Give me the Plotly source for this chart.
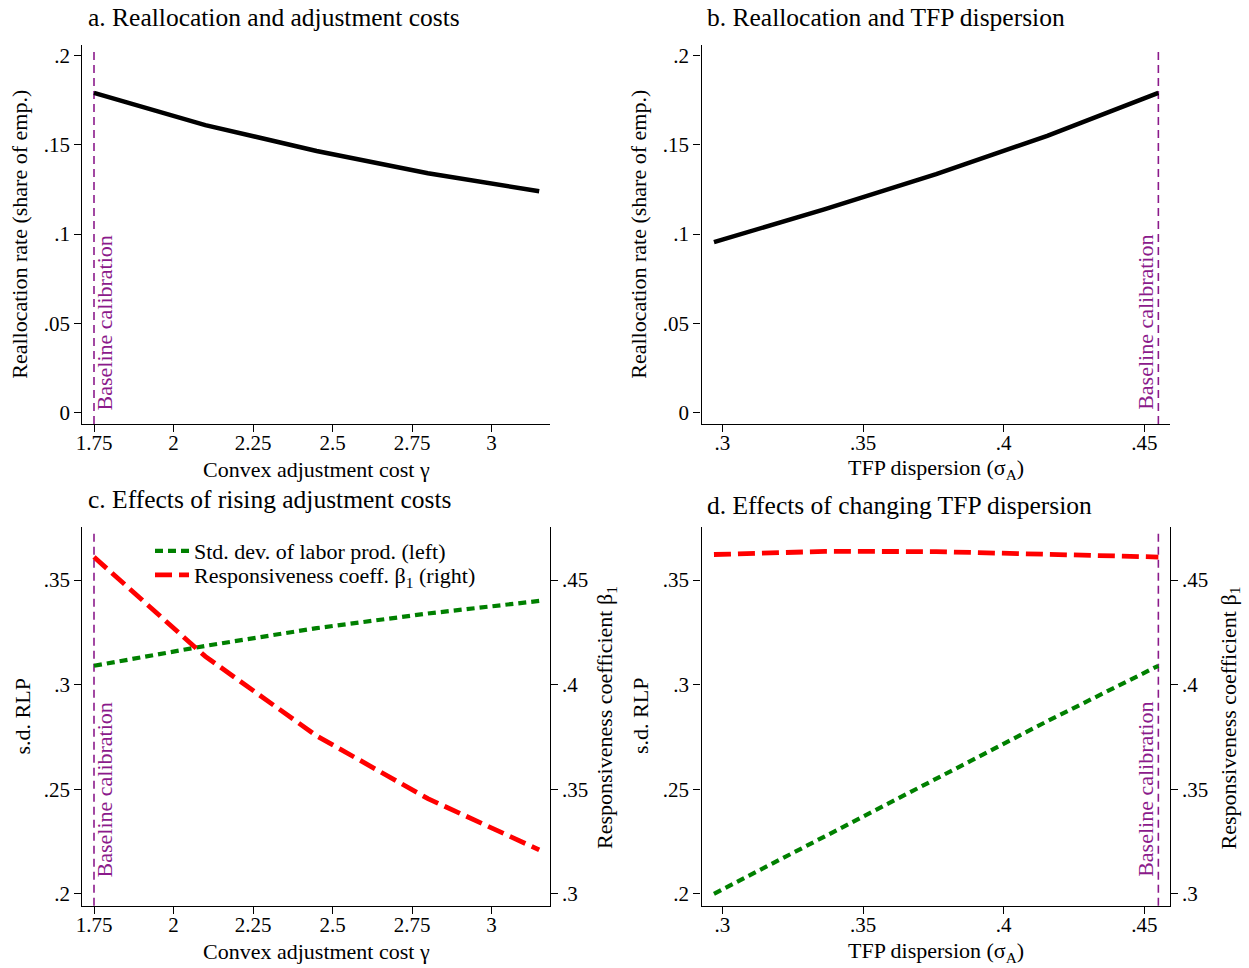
import plotly.graph_objects as go

# Model simulations: reallocation, dispersion and responsiveness
gamma = [1.75, 2.10, 2.45, 2.80, 3.15]          # convex adjustment cost
realloc_gamma = [0.179, 0.161, 0.1465, 0.134, 0.124]
sd_rlp_gamma = [0.309, 0.3185, 0.327, 0.334, 0.340]
beta_gamma = [0.461, 0.4135, 0.3755, 0.3455, 0.321]

sigma = [0.297, 0.3365, 0.376, 0.4155, 0.455]   # TFP dispersion
realloc_sigma = [0.0955, 0.114, 0.1335, 0.155, 0.179]
sd_rlp_sigma = [0.200, 0.2275, 0.255, 0.2825, 0.309]
beta_sigma = [0.4622, 0.4637, 0.4636, 0.4625, 0.461]

baseline_gamma = 1.75
baseline_sigma = 0.455

gamma_ticks = [1.75, 2, 2.25, 2.5, 2.75, 3]
gamma_ticktext = ["1.75", "2", "2.25", "2.5", "2.75", "3"]
sigma_ticks = [0.3, 0.35, 0.4, 0.45]
sigma_ticktext = [".3", ".35", ".4", ".45"]
realloc_ticks = [0, 0.05, 0.1, 0.15, 0.2]
realloc_ticktext = ["0", ".05", ".1", ".15", ".2"]
sd_ticks = [0.2, 0.25, 0.3, 0.35]
sd_ticktext = [".2", ".25", ".3", ".35"]
beta_ticks = [0.3, 0.35, 0.4, 0.45]
beta_ticktext = [".3", ".35", ".4", ".45"]

W, H = 1249, 968
FONT = "Liberation Serif, Times New Roman, serif"
PURPLE = "#8B1A8B"
GREEN = "#008000"
RED = "#FF0000"


def px_x(p):
    return p / W


def px_y(p):
    return 1 - p / H


axis_common = dict(
    showline=True, linecolor="black", linewidth=1.4,
    ticks="outside", ticklen=7, tickwidth=1.3, tickcolor="black",
    showgrid=False, zeroline=False, mirror=False, automargin=False,
    tickfont=dict(family=FONT, size=21, color="black"),
)
xaxis_common = dict(axis_common, ticklabelstandoff=-7)

dom_left = [px_x(82.3), px_x(549.5)]
dom_right = [px_x(701.5), px_x(1169.5)]
dom_top = [px_y(424), px_y(45.4)]
dom_bot = [px_y(905.7), px_y(526.7)]

fig = go.Figure()

# a. reallocation vs adjustment cost
fig.add_trace(go.Scatter(x=gamma, y=realloc_gamma, mode="lines",
                         line=dict(color="black", width=4.5),
                         xaxis="x", yaxis="y", showlegend=False))
# b. reallocation vs TFP dispersion
fig.add_trace(go.Scatter(x=sigma, y=realloc_sigma, mode="lines",
                         line=dict(color="black", width=4.5),
                         xaxis="x2", yaxis="y2", showlegend=False))
# c. adjustment cost effects
fig.add_trace(go.Scatter(x=gamma, y=sd_rlp_gamma, mode="lines",
                         name="Std. dev. of labor prod. (left)",
                         line=dict(color=GREEN, width=4.2, dash="8px,5px"),
                         xaxis="x3", yaxis="y3", showlegend=True, legend="legend"))
fig.add_trace(go.Scatter(x=gamma, y=beta_gamma, mode="lines",
                         name="Responsiveness coeff. β<sub>1</sub> (right)",
                         line=dict(color=RED, width=4.8, dash="17px,7px"),
                         xaxis="x3", yaxis="y5", showlegend=True, legend="legend2"))
# d. TFP dispersion effects
fig.add_trace(go.Scatter(x=sigma, y=sd_rlp_sigma, mode="lines",
                         line=dict(color=GREEN, width=4.2, dash="8px,5px"),
                         xaxis="x4", yaxis="y4", showlegend=False))
fig.add_trace(go.Scatter(x=sigma, y=beta_sigma, mode="lines",
                         line=dict(color=RED, width=4.8, dash="17px,7px"),
                         xaxis="x4", yaxis="y6", showlegend=False))

gamma_range = [1.7132, 3.1824]
sigma_range = [0.29257, 0.45896]

legend_common = dict(xanchor="left", yanchor="middle",
                     bgcolor="rgba(0,0,0,0)", borderwidth=0,
                     font=dict(family=FONT, size=22, color="black"),
                     itemwidth=34)

fig.update_layout(
    template="none",
    width=W, height=H,
    margin=dict(l=0, r=0, t=0, b=0, pad=0, autoexpand=False),
    paper_bgcolor="white", plot_bgcolor="white",
    font=dict(family=FONT, color="black"),
    xaxis=dict(xaxis_common, domain=dom_left, anchor="y", range=gamma_range,
               tickvals=gamma_ticks, ticktext=gamma_ticktext),
    yaxis=dict(axis_common, domain=dom_top, anchor="x", range=[-0.0063, 0.2056],
               tickvals=realloc_ticks, ticktext=realloc_ticktext),
    xaxis2=dict(xaxis_common, domain=dom_right, anchor="y2", range=sigma_range,
                tickvals=sigma_ticks, ticktext=sigma_ticktext),
    yaxis2=dict(axis_common, domain=dom_top, anchor="x2", range=[-0.0063, 0.2056],
                tickvals=realloc_ticks, ticktext=realloc_ticktext),
    xaxis3=dict(xaxis_common, domain=dom_left, anchor="y3", range=gamma_range,
                tickvals=gamma_ticks, ticktext=gamma_ticktext),
    yaxis3=dict(axis_common, domain=dom_bot, anchor="x3", range=[0.1943, 0.3755],
                tickvals=sd_ticks, ticktext=sd_ticktext),
    yaxis5=dict(axis_common, overlaying="y3", side="right", anchor="x3",
                range=[0.2943, 0.4755], tickvals=beta_ticks, ticktext=beta_ticktext),
    xaxis4=dict(xaxis_common, domain=dom_right, anchor="y4", range=sigma_range,
                tickvals=sigma_ticks, ticktext=sigma_ticktext),
    yaxis4=dict(axis_common, domain=dom_bot, anchor="x4", range=[0.1943, 0.3755],
                tickvals=sd_ticks, ticktext=sd_ticktext),
    yaxis6=dict(axis_common, overlaying="y4", side="right", anchor="x4",
                range=[0.2943, 0.4755], tickvals=beta_ticks, ticktext=beta_ticktext),
    legend=dict(legend_common, x=px_x(150), y=px_y(551)),
    legend2=dict(legend_common, x=px_x(150), y=px_y(575)),
)

# Baseline calibration markers
for xr, yr, xv in [("x", "y", baseline_gamma), ("x2", "y2", baseline_sigma),
                   ("x3", "y3", baseline_gamma), ("x4", "y4", baseline_sigma)]:
    fig.add_shape(type="line", xref=xr, yref=yr + " domain", x0=xv, x1=xv,
                  y0=0, y1=0.992, line=dict(color=PURPLE, width=1.6, dash="8px,5px"),
                  layer="below")

label_pos = [("x", baseline_gamma, 10, 322.5), ("x2", baseline_sigma, -13, 322.5),
             ("x3", baseline_gamma, 10, 789.5), ("x4", baseline_sigma, -13, 789.5)]
for xr, xv, shift, ypix in label_pos:
    fig.add_annotation(text="Baseline calibration", xref=xr, yref="paper",
                       x=xv, y=px_y(ypix), xshift=shift, textangle=-90,
                       showarrow=False, xanchor="center", yanchor="middle",
                       font=dict(family=FONT, size=22, color=PURPLE))

# Panel titles
titles = [("a. Reallocation and adjustment costs", 85.5, 18),
          ("b. Reallocation and TFP dispersion", 705.4, 18),
          ("c. Effects of rising adjustment costs", 85.8, 499),
          ("d. Effects of changing TFP dispersion", 705.0, 505)]
for txt, xp, yp in titles:
    fig.add_annotation(text=txt, xref="paper", yref="paper", x=px_x(xp), y=px_y(yp),
                       xanchor="left", yanchor="middle", showarrow=False,
                       font=dict(family=FONT, size=25.5, color="black"))

# Axis titles
axis_titles = [
    ("Convex adjustment cost γ", 316, 469, 0),
    ("TFP dispersion (σ<sub>A</sub>)", 936, 469, 0),
    ("Convex adjustment cost γ", 316, 951.5, 0),
    ("TFP dispersion (σ<sub>A</sub>)", 936, 951.5, 0),
    ("Reallocation rate (share of emp.)", 20, 234.7, -90),
    ("Reallocation rate (share of emp.)", 639, 234.7, -90),
    ("s.d. RLP", 21.5, 716, -90),
    ("s.d. RLP", 640, 716, -90),
    ("Responsiveness coefficient β<sub>1</sub>", 606, 718, -90),
    ("Responsiveness coefficient β<sub>1</sub>", 1229.5, 718, -90),
]
for txt, xp, yp, ang in axis_titles:
    fig.add_annotation(text=txt, xref="paper", yref="paper", x=px_x(xp), y=px_y(yp),
                       xanchor="center", yanchor="middle", textangle=ang,
                       showarrow=False,
                       font=dict(family=FONT, size=22, color="black"))

fig.write_html("out.html")
